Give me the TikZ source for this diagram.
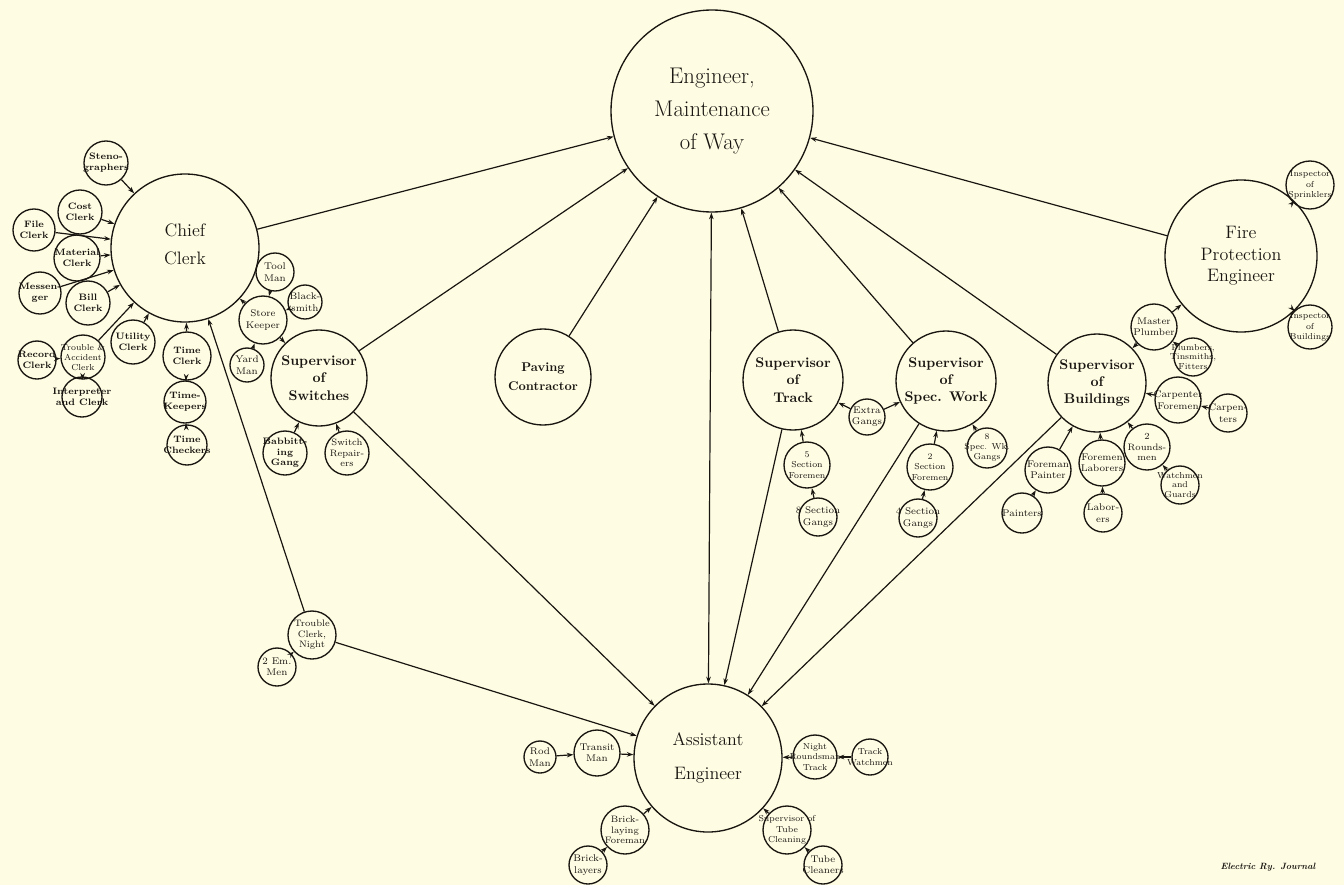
\documentclass[tikz,border=0pt]{standalone}
\usetikzlibrary{arrows.meta}
\definecolor{bg}{RGB}{254,252,226}
\definecolor{ink}{RGB}{25,22,18}
\newcommand\orgnode[6]{%
  \node[circ,minimum size=#4*1.5pt] (#1) at (#2,#3) {};
  \node[#5] (#1-t) at (#1.center) {#6};}
\begin{document}
\begin{tikzpicture}[x=0.75pt,y=-0.75pt,
  circ/.style={circle,draw=ink,line width=1pt,inner sep=0pt},
  big/.style={align=center,text=ink,font=\fontsize{17}{25}\selectfont},
  mid/.style={align=center,text=ink,font=\fontsize{13.5}{21}\selectfont},
  sup/.style={align=center,text=ink,font=\fontsize{10.5}{13}\selectfont\bfseries},
  sb/.style={align=center,text=ink,font=\fontsize{7}{8.5}\selectfont\bfseries},
  sr/.style={align=center,text=ink,font=\fontsize{7.3}{8.5}\selectfont},
  arr/.style={draw=ink,line width=0.9pt,-{Stealth[length=5pt,width=3.5pt]}},
  darr/.style={draw=ink,line width=0.9pt,{Stealth[length=5pt,width=3.5pt]}-{Stealth[length=5pt,width=3.5pt]}},
  credit/.style={text=ink,font=\fontsize{6.8}{8}\selectfont\bfseries\itshape}]
\fill[bg] (0,0) rectangle (1344,885);
\useasboundingbox (0,0) rectangle (1344,885);
% main nodes
\orgnode{main}{712}{111}{101}{big}{Engineer,\\Maintenance\\of Way}
\orgnode{chief}{185}{248}{74}{mid,yshift=3pt}{Chief\\Clerk}
\orgnode{fire}{1241}{256}{76}{mid,font=\fontsize{13.5}{16}\selectfont}{Fire\\Protection\\Engineer}
\orgnode{asst}{708}{758}{74}{mid,font=\fontsize{13.5}{26}\selectfont}{Assistant\\Engineer}
\orgnode{switch}{319}{378}{48}{sup}{Supervisor\\of\\Switches}
\orgnode{paving}{543}{377}{48}{sup,font=\fontsize{9.5}{14}\selectfont\bfseries}{Paving\\Contractor}
\orgnode{track}{793}{380}{50}{sup}{Supervisor\\of\\Track}
\orgnode{spec}{946}{381}{50}{sup}{Supervisor\\of\\Spec. Work}
\orgnode{bldg}{1097}{383}{49}{sup}{Supervisor\\of\\Buildings}
% chief clerk cluster
\orgnode{sten}{106}{163}{22}{sb}{Steno-\\graphers}
\orgnode{cost}{80}{212}{22}{sb}{Cost\\Clerk}
\orgnode{file}{34}{230}{21}{sb}{File\\Clerk}
\orgnode{mat}{77}{258}{23}{sb}{Material\\Clerk}
\orgnode{mess}{40}{293}{21}{sb}{Messen-\\ger}
\orgnode{bill}{88}{303}{22}{sb}{Bill\\Clerk}
\orgnode{util}{133}{342}{22}{sb}{Utility\\Clerk}
\orgnode{timec}{187}{356}{24}{sb}{Time\\Clerk}
\orgnode{timek}{185}{402}{21}{sb}{Time-\\Keepers}
\orgnode{timech}{187}{445}{20}{sb}{Time\\Checkers}
\orgnode{trac}{83}{357}{22}{sr,font=\fontsize{6.5}{7.5}\selectfont}{Trouble \&\\Accident\\Clerk}
\orgnode{rec}{37}{360}{19}{sb}{Record\\Clerk}
\orgnode{interp}{82}{397}{20}{sb}{Interpreter\\and Clerk}
% store keeper / switches
\orgnode{store}{263}{320}{24}{sr}{Store\\Keeper}
\orgnode{tool}{275}{272}{19}{sr}{Tool\\Man}
\orgnode{black}{305}{302}{17}{sr}{Black-\\smith}
\orgnode{yard}{247}{365}{17}{sr}{Yard\\Man}
\orgnode{babb}{285}{453}{22}{sb,font=\fontsize{7}{8}\selectfont\bfseries}{Babbitt-\\ing\\Gang}
\orgnode{srep}{347}{453}{22}{sr,font=\fontsize{7}{8}\selectfont}{Switch\\Repair-\\ers}
% track / spec work
\orgnode{extra}{867}{417}{18}{sr}{Extra\\Gangs}
\orgnode{sffive}{807}{465}{23}{sr,font=\fontsize{6.5}{8}\selectfont}{5\\Section\\Foremen}
\orgnode{sgeight}{818}{517}{19}{sr}{8 Section\\Gangs}
\orgnode{sftwo}{930}{467}{23}{sr,font=\fontsize{6.5}{8}\selectfont}{2\\Section\\Foremen}
\orgnode{sgfour}{918}{518}{19}{sr}{4 Section\\Gangs}
\orgnode{swg}{987}{448}{20}{sr,font=\fontsize{6.5}{7.5}\selectfont}{8\\Spec. Wk.\\Gangs}
% buildings
\orgnode{mplumb}{1154}{327}{23}{sr}{Master\\Plumber}
\orgnode{plumb}{1193}{357}{19}{sr,font=\fontsize{6.5}{7}\selectfont}{Plumbers,\\Tinsmiths,\\Fitters}
\orgnode{carpf}{1178}{400}{23}{sr}{Carpenter\\Foremen}
\orgnode{carp}{1228}{413}{19}{sr}{Carpen-\\ters}
\orgnode{round}{1147}{447}{23}{sr,font=\fontsize{7}{8}\selectfont}{2\\Rounds-\\men}
\orgnode{watch}{1180}{485}{19}{sr,font=\fontsize{6.5}{7}\selectfont}{Watchmen\\and\\Guards}
\orgnode{forlab}{1102}{463}{23}{sr}{Foremen\\Laborers}
\orgnode{lab}{1103}{513}{19}{sr}{Labor-\\ers}
\orgnode{forpaint}{1048}{470}{23}{sr}{Foreman\\Painter}
\orgnode{paint}{1022}{513}{20}{sr}{Painters}
% fire
\orgnode{insps}{1310}{185}{24}{sr,font=\fontsize{6.5}{8}\selectfont}{Inspector\\of\\Sprinklers}
\orgnode{inspb}{1310}{327}{22}{sr,font=\fontsize{6.5}{8}\selectfont}{Inspector\\of\\Buildings}
% trouble night
\orgnode{tcn}{312}{635}{24}{sr,font=\fontsize{7}{8}\selectfont}{Trouble\\Clerk,\\Night}
\orgnode{em}{277}{667}{19}{sr}{2 Em.\\Men}
% assistant cluster
\orgnode{rod}{540}{757}{16}{sr}{Rod\\Man}
\orgnode{transit}{597}{753}{23}{sr}{Transit\\Man}
\orgnode{nrt}{815}{757}{22}{sr,font=\fontsize{6.5}{8}\selectfont}{Night\\Roundsman\\Track}
\orgnode{twatch}{870}{757}{18}{sr,font=\fontsize{6.5}{8}\selectfont}{Track\\Watchmen}
\orgnode{bfore}{625}{830}{24}{sr,font=\fontsize{7}{8}\selectfont}{Brick-\\laying\\Foreman}
\orgnode{blayer}{588}{865}{19}{sr}{Brick-\\layers}
\orgnode{stc}{787}{830}{24}{sr,font=\fontsize{6.5}{8}\selectfont}{Supervisor of\\Tube\\Cleaning}
\orgnode{tclean}{823}{865}{19}{sr}{Tube\\Cleaners}
% connectors to main
\foreach \s in {chief,switch,paving,track,spec,bldg,fire}
  \draw[arr] (\s) -- (main);
\draw[darr] (main) -- (asst);
% connectors to assistant
\foreach \s in {switch,track,spec,bldg,tcn}
  \draw[arr] (\s) -- (asst);
\draw[arr] (tcn) -- (chief);
% chief clerk cluster
\foreach \s in {sten,cost,file,mat,mess,bill,util,timec,trac,store}
  \draw[arr] (\s) -- (chief);
\draw[arr] (rec) -- (trac);
\draw[arr] (interp) -- (trac);
\draw[arr] (timek) -- (timec);
\draw[arr] (timech) -- (timek);
\draw[arr] (tool) -- (store);
\draw[arr] (black) -- (store);
\draw[arr] (yard) -- (store);
\draw[arr] (store) -- (switch);
\draw[arr] (babb) -- (switch);
\draw[arr] (srep) -- (switch);
% track / spec
\draw[arr] (extra) -- (track);
\draw[arr] (extra) -- (spec);
\draw[arr] (sffive) -- (track);
\draw[arr] (sgeight) -- (sffive);
\draw[arr] (sftwo) -- (spec);
\draw[arr] (sgfour) -- (sftwo);
\draw[arr] (swg) -- (spec);
% buildings
\draw[arr] (mplumb) -- (bldg);
\draw[arr] (mplumb) -- (fire);
\draw[arr] (plumb) -- (mplumb);
\draw[arr] (carpf) -- (bldg);
\draw[arr] (carp) -- (carpf);
\draw[arr] (round) -- (bldg);
\draw[arr] (watch) -- (round);
\draw[arr] (forlab) -- (bldg);
\draw[arr] (lab) -- (forlab);
\draw[arr] (forpaint) -- (bldg);
\draw[arr] (paint) -- (forpaint);
\draw[arr] (insps) -- (fire);
\draw[arr] (inspb) -- (fire);
% trouble night
\draw[arr] (em) -- (tcn);
% assistant cluster
\draw[arr] (rod) -- (transit);
\draw[arr] (transit) -- (asst);
\draw[arr] (nrt) -- (asst);
\draw[arr] (twatch) -- (nrt);
\draw[arr] (bfore) -- (asst);
\draw[arr] (blayer) -- (bfore);
\draw[arr] (stc) -- (asst);
\draw[arr] (tclean) -- (stc);
\node[credit,anchor=east] (credit) at (1320,867) {Electric Ry. Journal};
\end{tikzpicture}
\end{document}
